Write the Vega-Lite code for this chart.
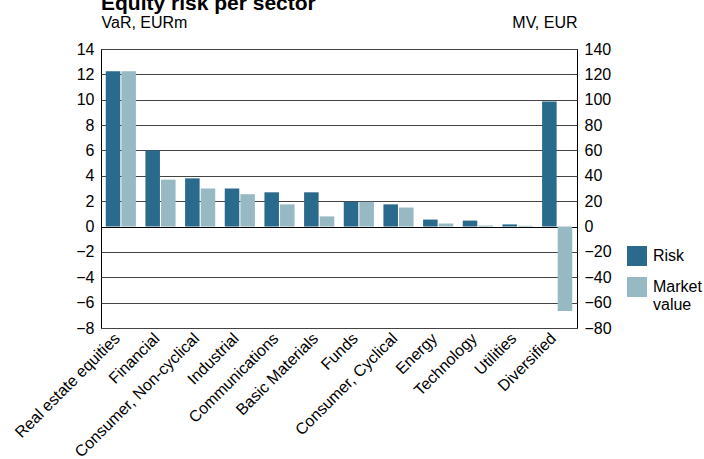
{
  "$schema": "https://vega.github.io/schema/vega-lite/v6.json",
  "width": 476,
  "height": 279,
  "autosize": {"type": "none"},
  "padding": {"left": 101, "top": 49, "right": 127, "bottom": 131},
  "background": "white",
  "title": {"text": "Equity risk per sector", "anchor": "start", "frame": "group", "font": "Liberation Sans", "fontSize": 21, "fontWeight": "bold", "color": "#000", "offset": 0},
  "config": {
    "font": "Liberation Sans",
    "view": {"stroke": "#000", "strokeWidth": 1},
    "axis": {"labelFont": "Liberation Sans", "labelFontSize": 16, "labelColor": "#000", "titleFont": "Liberation Sans", "titleFontSize": 16, "titleFontWeight": "normal", "titleColor": "#000", "ticks": false, "domain": false},
    "legend": {"labelFont": "Liberation Sans", "labelFontSize": 16, "labelColor": "#000"}
  },
  "data": {"values": [
    {"sector": "Real estate equities", "series": "Risk", "value": 12.25},
    {"sector": "Real estate equities", "series": "Market value", "value": 122.5},
    {"sector": "Financial", "series": "Risk", "value": 6.0},
    {"sector": "Financial", "series": "Market value", "value": 37},
    {"sector": "Consumer, Non-cyclical", "series": "Risk", "value": 3.8},
    {"sector": "Consumer, Non-cyclical", "series": "Market value", "value": 30},
    {"sector": "Industrial", "series": "Risk", "value": 3.0},
    {"sector": "Industrial", "series": "Market value", "value": 25.5},
    {"sector": "Communications", "series": "Risk", "value": 2.7},
    {"sector": "Communications", "series": "Market value", "value": 17.5},
    {"sector": "Basic Materials", "series": "Risk", "value": 2.7},
    {"sector": "Basic Materials", "series": "Market value", "value": 8},
    {"sector": "Funds", "series": "Risk", "value": 1.95},
    {"sector": "Funds", "series": "Market value", "value": 19.5},
    {"sector": "Consumer, Cyclical", "series": "Risk", "value": 1.75},
    {"sector": "Consumer, Cyclical", "series": "Market value", "value": 15},
    {"sector": "Energy", "series": "Risk", "value": 0.55},
    {"sector": "Energy", "series": "Market value", "value": 2.4},
    {"sector": "Technology", "series": "Risk", "value": 0.47},
    {"sector": "Technology", "series": "Market value", "value": 0.8},
    {"sector": "Utilities", "series": "Risk", "value": 0.17},
    {"sector": "Utilities", "series": "Market value", "value": 0.6},
    {"sector": "Diversified", "series": "Risk", "value": 9.87},
    {"sector": "Diversified", "series": "Market value", "value": -66.6}
  ]},
  "encoding": {
    "x": {"field": "sector", "type": "nominal", "sort": null, "scale": {"paddingInner": 0.24, "paddingOuter": 0.12}, "axis": {"title": null, "labelAngle": -45, "labelAlign": "right", "labelBaseline": "alphabetic", "labelPadding": 11}},
    "xOffset": {"field": "series", "type": "nominal", "scale": {"domain": ["Risk", "Market value"], "paddingInner": 0.07}},
    "color": {"field": "series", "type": "nominal", "scale": {"domain": ["Risk", "Market value"], "range": ["#2a6a8c", "#97b9c3"]}, "legend": {"title": null, "orient": "none", "legendX": 526, "legendY": 197, "padding": 0, "symbolType": "square", "symbolSize": 400, "symbolStrokeWidth": 0, "symbolOpacity": 1, "labelOffset": 6, "rowPadding": 11, "labelExpr": "split(datum.label, ' ')", "labelLineHeight": 19}}
  },
  "layer": [
    {
      "transform": [{"filter": "datum.series === 'Risk'"}],
      "mark": {"type": "bar"},
      "encoding": {
        "y": {"field": "value", "type": "quantitative", "scale": {"domain": [-8, 14], "nice": false, "zero": false},
          "axis": {"orient": "left", "values": [-8, -6, -4, -2, 0, 2, 4, 6, 8, 10, 12, 14], "grid": true, "gridColor": {"condition": {"test": "datum.value === 0", "value": "#000"}, "value": "#444"}, "gridWidth": 1, "labelPadding": 7, "title": "VaR, EURm", "titleAngle": 0, "titleAlign": "left", "titleBaseline": "alphabetic", "titleX": 0, "titleY": -22}}
      }
    },
    {
      "transform": [{"filter": "datum.series === 'Market value'"}],
      "mark": {"type": "bar"},
      "encoding": {
        "y": {"field": "value", "type": "quantitative", "scale": {"domain": [-80, 140], "nice": false, "zero": false},
          "axis": {"orient": "right", "values": [-80, -60, -40, -20, 0, 20, 40, 60, 80, 100, 120, 140], "grid": false, "labelPadding": 7, "title": "MV, EUR", "titleAngle": 0, "titleAlign": "right", "titleBaseline": "alphabetic", "titleX": 0, "titleY": -22}}
      }
    }
  ],
  "resolve": {"scale": {"y": "independent"}}
}
